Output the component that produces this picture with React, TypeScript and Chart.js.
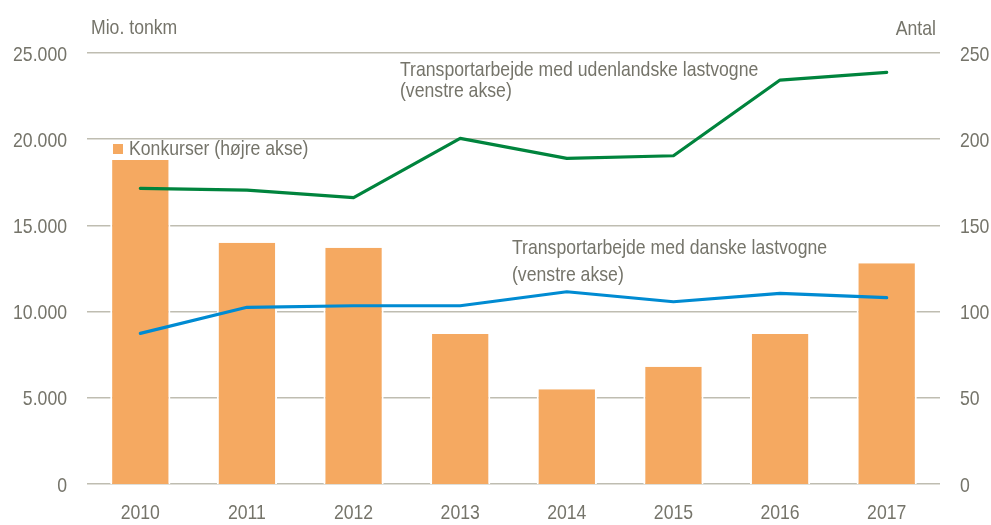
import React, { useEffect, useRef } from 'react';
import { Chart, registerables } from 'chart.js';

Chart.register(...registerables);

// ---- data ----
const years = ['2010', '2011', '2012', '2013', '2014', '2015', '2016', '2017'];
const konkurser = [188, 140, 137, 87, 55, 68, 87, 128]; // right axis (Antal)
const udenlandske = [17150, 17050, 16610, 20050, 18890, 19040, 23430, 23880]; // left axis
const danske = [8740, 10250, 10340, 10340, 11150, 10570, 11060, 10810]; // left axis

const leftTitle = 'Mio. tonkm';
const rightTitle = 'Antal';
const legendLabel = 'Konkurser (højre akse)';
const labelUdenlandske = ['Transportarbejde med udenlandske lastvogne', '(venstre akse)'];
const labelDanske = ['Transportarbejde med danske lastvogne', '(venstre akse)'];

const FONT = "'Liberation Sans', Arial, sans-serif";
const SX = 0.84; // horizontal condensing to imitate a narrow face
const TEXT = '#75746A';
const GRID = '#BFBDB1';
const ORANGE = '#F5A961';
const GREEN = '#00843D';
const BLUE = '#008BD2';

const fmt = (v: number) => String(Math.round(v)).replace(/\B(?=(\d{3})+(?!\d))/g, '.');

function drawText(ctx: CanvasRenderingContext2D, text: string, x: number, y: number, align: CanvasTextAlign) {
  ctx.save();
  ctx.translate(x, y);
  ctx.scale(SX, 1);
  ctx.textAlign = align;
  ctx.fillText(text, 0, 0);
  ctx.restore();
}

const textPlugin = {
  id: 'textPlugin',
  afterDraw(chart: any) {
    const ctx = chart.ctx as CanvasRenderingContext2D;
    const { left, right, bottom } = chart.chartArea;
    const xs = chart.scales.x;
    const yl = chart.scales.y;
    const yr = chart.scales.y1;
    ctx.save();
    ctx.font = `21px ${FONT}`;
    ctx.fillStyle = TEXT;
    ctx.textBaseline = 'alphabetic';
    // axis tick labels
    yl.ticks.forEach((t: any) => {
      drawText(ctx, fmt(t.value), left - 20, yl.getPixelForValue(t.value) + 7.5, 'right');
    });
    yr.ticks.forEach((t: any) => {
      drawText(ctx, String(t.value), right + 20, yr.getPixelForValue(t.value) + 7.5, 'left');
    });
    years.forEach((yLabel, i) => {
      drawText(ctx, yLabel, xs.getPixelForValue(i), bottom + 35, 'center');
    });
    // axis titles
    drawText(ctx, leftTitle, left + 4, 34, 'left');
    drawText(ctx, rightTitle, right - 4, 35, 'right');
    // annotations
    drawText(ctx, labelUdenlandske[0], 400, 76, 'left');
    drawText(ctx, labelUdenlandske[1], 400, 97, 'left');
    drawText(ctx, labelDanske[0], 512, 254, 'left');
    drawText(ctx, labelDanske[1], 512, 281, 'left');
    // legend
    ctx.fillStyle = ORANGE;
    ctx.fillRect(113, 144, 10, 10);
    ctx.fillStyle = TEXT;
    drawText(ctx, legendLabel, 129, 155, 'left');
    ctx.restore();
  },
};

export default function App() {
  const ref = useRef<HTMLCanvasElement>(null);
  useEffect(() => {
    if (!ref.current) return;
    const chart = new Chart(ref.current, {
      type: 'bar',
      data: {
        labels: years,
        datasets: [
          {
            type: 'line',
            label: labelUdenlandske[0],
            data: udenlandske,
            yAxisID: 'y',
            borderColor: GREEN,
            borderWidth: 3.2,
            pointRadius: 0,
            borderCapStyle: 'round',
            borderJoinStyle: 'round',
            tension: 0,
            order: 0,
          },
          {
            type: 'line',
            label: labelDanske[0],
            data: danske,
            yAxisID: 'y',
            borderColor: BLUE,
            borderWidth: 3.2,
            pointRadius: 0,
            borderCapStyle: 'round',
            borderJoinStyle: 'round',
            tension: 0,
            order: 1,
          },
          {
            type: 'bar',
            label: legendLabel,
            data: konkurser,
            yAxisID: 'y1',
            backgroundColor: ORANGE,
            borderColor: '#FFFFFF',
            borderWidth: { left: 2, right: 2, top: 0, bottom: 0 },
            barPercentage: 0.565,
            categoryPercentage: 1,
            order: 2,
          },
        ],
      },
      options: {
        responsive: false,
        animation: false,
        layout: { padding: { top: 53, left: 0, right: 0, bottom: 0 } },
        plugins: {
          legend: { display: false },
          tooltip: { enabled: false },
        },
        scales: {
          x: {
            grid: { display: false },
            border: { display: false },
            ticks: { display: false },
            afterFit: (s: any) => { s.height = 41; },
          },
          y: {
            position: 'left',
            min: 0,
            max: 25000,
            grid: { color: GRID, lineWidth: 1.6, drawTicks: false },
            border: { display: false },
            ticks: { stepSize: 5000, display: false },
            afterFit: (s: any) => { s.width = 87; },
          },
          y1: {
            position: 'right',
            min: 0,
            max: 250,
            grid: { display: false, drawTicks: false },
            border: { display: false },
            ticks: { stepSize: 50, display: false },
            afterFit: (s: any) => { s.width = 51; },
          },
        },
      } as any,
      plugins: [textPlugin],
    });
    return () => chart.destroy();
  }, []);
  return (
    <div style={{ position: 'absolute', left: 0, top: 0, width: 991, height: 525 }}>
      <canvas ref={ref} width={991} height={525} />
    </div>
  );
}
